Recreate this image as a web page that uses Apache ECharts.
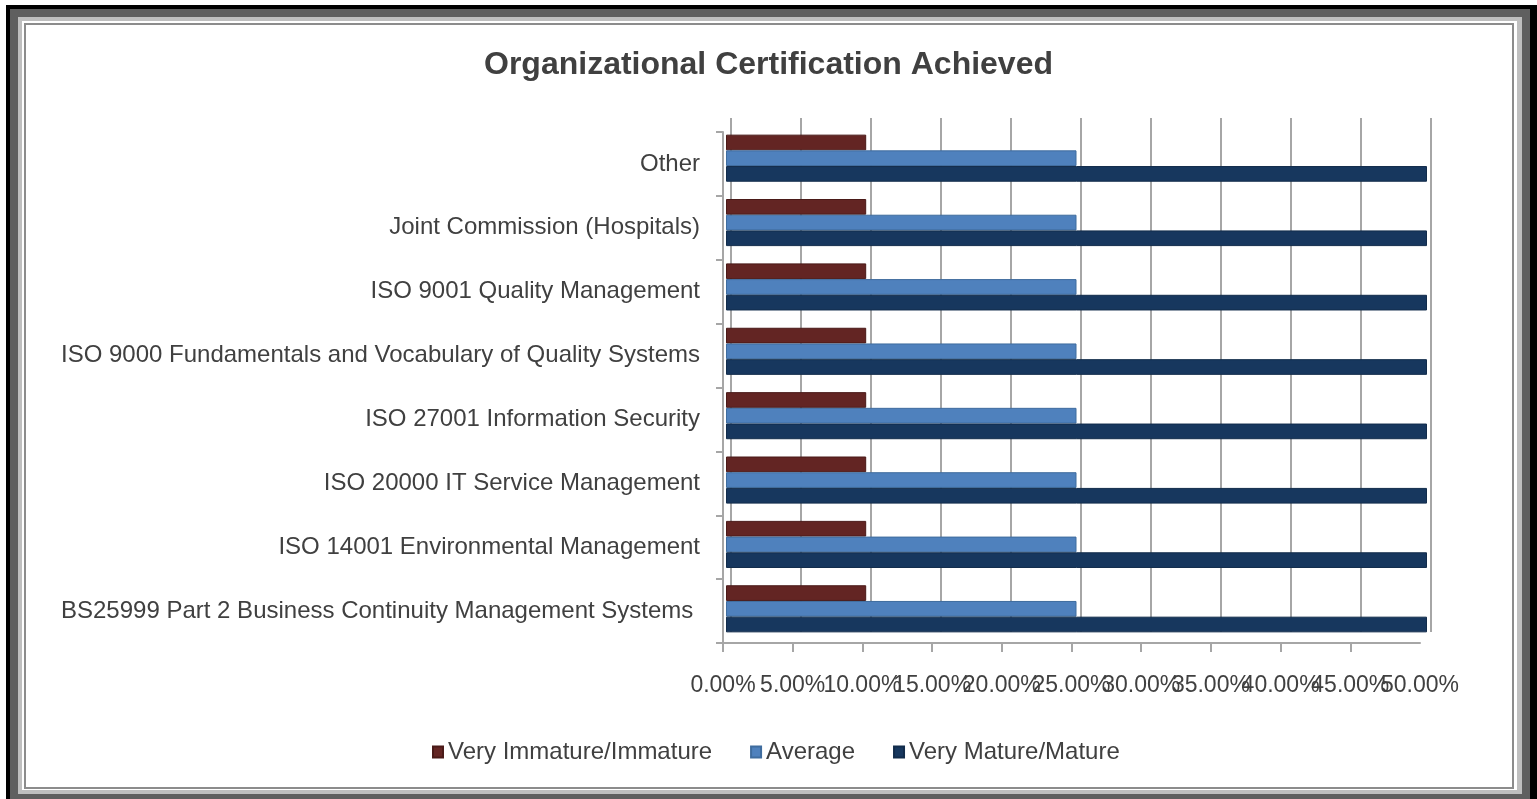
<!DOCTYPE html>
<html>
<head>
<meta charset="utf-8">
<script src="https://cdn.jsdelivr.net/npm/echarts@6/dist/echarts.min.js"></script>
<style>
  html, body { margin: 0; padding: 0; background: #fff; }
  .box { position: absolute; box-sizing: border-box; }
  #chart { position: absolute; left: 0; top: 0; width: 1537px; height: 799px; }
</style>
</head>
<body>
<!-- picture frame -->
<div class="box" style="left:6px;top:5px;width:1531px;height:794px;background:#000;"></div>
<div class="box" style="left:10px;top:9px;width:1520px;height:790px;background:#5f5f5f;"></div>
<div class="box" style="left:18px;top:17px;width:1504px;height:777px;background:#bfbfbf;"></div>
<div class="box" style="left:22px;top:21px;width:1495px;height:769px;background:#fff;"></div>
<div class="box" style="left:24px;top:23px;width:1490px;height:766px;border:2px solid #8c8c8c;"></div>
<div id="chart"></div>
<script>
const categories = [
  "BS25999 Part 2 Business Continuity Management Systems ",
  "ISO 14001 Environmental Management",
  "ISO 20000 IT Service Management",
  "ISO 27001 Information Security",
  "ISO 9000 Fundamentals and Vocabulary of Quality Systems",
  "ISO 9001 Quality Management",
  "Joint Commission (Hospitals)",
  "Other",
];
const immature = [10, 10, 10, 10, 10, 10, 10, 10];
const average = [25, 25, 25, 25, 25, 25, 25, 25];
const mature = [50, 50, 50, 50, 50, 50, 50, 50];
const seriesNames = ["Very Immature/Immature", "Average", "Very Mature/Mature"];
const axisMax = 50;

const textColor = "#404040";
const lineColor = "#a6a6a6";
const font = "Liberation Sans";

const chart = echarts.init(document.getElementById("chart"));

const valueAxis = (gridIndex) => ({
  type: "value",
  gridIndex,
  position: "bottom",
  offset: 0,
  min: 0,
  max: axisMax,
  interval: 5,
});

const pct = (v) => v.toFixed(2) + "%";

const labelStyle = {
  margin: 31,
  fontFamily: font,
  fontSize: 23,
  color: textColor,
};

const barSeries = (name, data, color, border) => ({
  name,
  type: "bar",
  xAxisIndex: 0,
  yAxisIndex: 0,
  data,
  barWidth: 15.7,
  barGap: "0%",
  itemStyle: { color, borderColor: border, borderWidth: 1 },
});

const hidden = {
  axisLine: { show: false },
  axisTick: { show: false },
  axisLabel: { show: false },
  splitLine: { show: false },
};

chart.setOption({
  animation: false,
  title: {
    text: "Organizational Certification Achieved",
    left: "center",
    top: 44,
    textStyle: {
      fontFamily: font,
      fontSize: 32,
      fontWeight: "bold",
      color: textColor,
    },
  },
  legend: {
    data: seriesNames,
    left: 427,
    top: 735,
    itemWidth: 10,
    itemHeight: 11,
    itemGap: 38,
    icon: "rect",
    textStyle: { fontFamily: font, fontSize: 24, color: textColor },
  },
  grid: [
    // bars
    { left: 726, right: 110, top: 126, height: 515 },
    // front axes (labels, floor edge, left wall)
    { left: 723, right: 117, top: 132, height: 511 },
    // back wall gridlines
    { left: 731, right: 106, top: 118, height: 514 },
  ],
  xAxis: [
    Object.assign(valueAxis(0), hidden),
    Object.assign(valueAxis(1), {
      axisLine: { show: true, lineStyle: { color: lineColor, width: 2 } },
      axisTick: { show: true, length: 9, lineStyle: { color: lineColor, width: 2 } },
      axisLabel: Object.assign({}, labelStyle, {
        showMinLabel: true,
        showMaxLabel: false,
        formatter: pct,
      }),
      splitLine: { show: false },
    }),
    Object.assign(valueAxis(2), hidden, {
      splitLine: { show: true, lineStyle: { color: lineColor, width: 2 } },
    }),
    // last tick label alone, so the overlapping labels all stay visible
    Object.assign(valueAxis(1), hidden, {
      axisLabel: Object.assign({}, labelStyle, {
        show: true,
        showMaxLabel: true,
        formatter: (v) => (v === axisMax ? pct(v) : ""),
      }),
    }),
  ],
  yAxis: [
    { type: "category", gridIndex: 0, data: categories, show: false },
    {
      type: "category",
      gridIndex: 1,
      data: categories,
      axisLine: { show: true, lineStyle: { color: lineColor, width: 2 } },
      axisTick: { show: true, length: 7, lineStyle: { color: lineColor, width: 2 } },
      axisLabel: {
        margin: 23,
        fontFamily: font,
        fontSize: 24,
        color: textColor,
      },
    },
    { type: "category", gridIndex: 2, data: categories, show: false },
  ],
  series: [
    barSeries(seriesNames[0], immature, "#632523", "#4a1a18"),
    barSeries(seriesNames[1], average, "#4f81bd", "#3f6c9e"),
    barSeries(seriesNames[2], mature, "#17375e", "#122c4b"),
  ],
});
</script>
</body>
</html>
